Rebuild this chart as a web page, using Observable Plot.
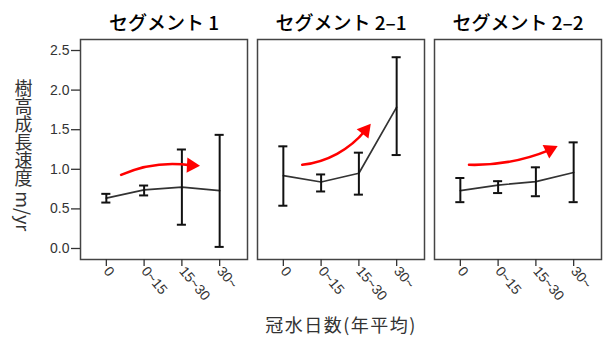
<!DOCTYPE html>
<html><head><meta charset="utf-8">
<script src="https://cdn.jsdelivr.net/npm/d3@7"></script>
<script src="https://cdn.jsdelivr.net/npm/@observablehq/plot@0.6"></script>
<style>body{margin:0;background:#fff}
svg g[aria-label$="tick label"] text{font-size:14px !important;font-family:'Liberation Sans',Arial,sans-serif !important;}
svg g[aria-label="fx-axis tick label"] text{font-size:19px !important;font-family:'Noto Sans CJK JP',sans-serif !important;}
</style>
</head><body><div id="chart"></div>
<script>
const segments = ["セグメント 1", "セグメント 2–1", "セグメント 2–2"];
const categories = ["0", "0~15", "15~30", "30~"];
const means = [[0.635, 0.74, 0.775, 0.73], [0.92, 0.84, 0.95, 1.785], [0.73, 0.80, 0.845, 0.96]];
const lows  = [[0.58, 0.67, 0.30, 0.02], [0.54, 0.72, 0.68, 1.18], [0.585, 0.70, 0.66, 0.585]];
const highs = [[0.69, 0.795, 1.25, 1.435], [1.29, 0.935, 1.21, 2.415], [0.89, 0.85, 1.025, 1.34]];
const yTicks = [0, 0.5, 1.0, 1.5, 2.0, 2.5];
const yLabel = "樹高成長速度 m/yr";
const xLabel = "冠水日数(年平均)";
// annotation arrows (data units: category index, m/yr)
const arrowX1 = [0.39, 0.5, 0.23];
const arrowY1 = [0.93, 1.057, 1.057];
const arrowX2 = [2.25, 2.17, 2.37];
const arrowY2 = [1.05, 1.49, 1.245];
const arrowBend = [16, -22, -12];
const arrowRot = [93, 39, 64];

const rows = [];
segments.forEach((s, si) => categories.forEach((c, ci) =>
  rows.push({seg: s, i: ci, mean: means[si][ci], lo: lows[si][ci], hi: highs[si][ci]})));
const arrows = segments.map((s, k) => ({seg: s, x1: arrowX1[k], y1: arrowY1[k], x2: arrowX2[k], y2: arrowY2[k], rot: arrowRot[k]}));

const cjk = "'Noto Sans CJK JP', 'Noto Sans', sans-serif";
const sans = "'Liberation Sans', Arial, sans-serif";
const plot = Plot.plot({
  width: 603, height: 347,
  marginLeft: 79, marginRight: 1, marginTop: 39, marginBottom: 88,
  style: {fontFamily: sans, fontSize: "14px", color: "#333", background: "#fff", overflow: "visible"},
  fx: {domain: segments, paddingInner: 0.055, paddingOuter: 0, label: null, axis: null},
  x: {domain: [-0.684, 3.737]},
  y: {domain: [-0.139, 2.639]},
  marks: [
    Plot.frame({stroke: "#444", strokeWidth: 1.5}),
    Plot.axisFx({anchor: "top", label: null, tickSize: 0, tickPadding: 10, fontSize: 19, fontFamily: cjk, fontWeight: 500, fill: "#000"}),
    Plot.axisY({ticks: yTicks, tickFormat: d3.format(".1f"), tickSize: 9, tickPadding: 2, label: null, stroke: "#333", strokeWidth: 1.3, fill: "#333"}),
    Plot.axisX({ticks: [0, 1, 2, 3], tickFormat: i => categories[i], tickSize: 7, tickPadding: 2, tickRotate: 50, label: null, stroke: "#333", strokeWidth: 1.3, fill: "#333"}),
    Plot.line(rows, {fx: "seg", x: "i", y: "mean", stroke: "#333", strokeWidth: 1.7}),
    Plot.ruleX(rows, {fx: "seg", x: "i", y1: "lo", y2: "hi", stroke: "#111", strokeWidth: 2}),
    Plot.ruleY(rows, {fx: "seg", y: "hi", x1: d => d.i - 0.12, x2: d => d.i + 0.12, stroke: "#111", strokeWidth: 2}),
    Plot.ruleY(rows, {fx: "seg", y: "lo", x1: d => d.i - 0.12, x2: d => d.i + 0.12, stroke: "#111", strokeWidth: 2}),
    ...arrows.map((a, k) => Plot.arrow([a], {fx: "seg", x1: "x1", y1: "y1", x2: "x2", y2: "y2", bend: arrowBend[k], headLength: 0, stroke: "#f00", strokeWidth: 2.6})),
    Plot.dot(arrows, {fx: "seg", x: "x2", y: "y2", symbol: "triangle", r: 5.6, fill: "#f00", stroke: "none", rotate: "rot"}),
    Plot.text([{seg: segments[0], t: yLabel}], {fx: "seg", text: "t", frameAnchor: "left", dx: -57, textAnchor: "middle", fontSize: 18, fontFamily: cjk, fill: "#333"}),
    Plot.text([{seg: segments[1], t: xLabel}], {fx: "seg", text: "t", frameAnchor: "bottom", dy: 72, textAnchor: "middle", fontSize: 18, fontFamily: cjk, fill: "#333"})
  ]
});
document.getElementById("chart").appendChild(plot);
const tickTexts = new Set([...categories, ...yTicks.map(d3.format(".1f"))]);
d3.select(plot).selectAll("text").filter(function() { return tickTexts.has(this.textContent.trim()); })
  .style("font-size", "14px").style("font-family", sans);
d3.select(plot).selectAll("text").filter(function() { return this.textContent === yLabel; })
  .attr("dy", null)
  .style("writing-mode", "vertical-rl")
  .style("text-orientation", "mixed")
  .style("dominant-baseline", "central");
d3.select(plot).selectAll("text").filter(function() { return this.textContent === xLabel; })
  .style("letter-spacing", "1.5px");
</script>
</body></html>
